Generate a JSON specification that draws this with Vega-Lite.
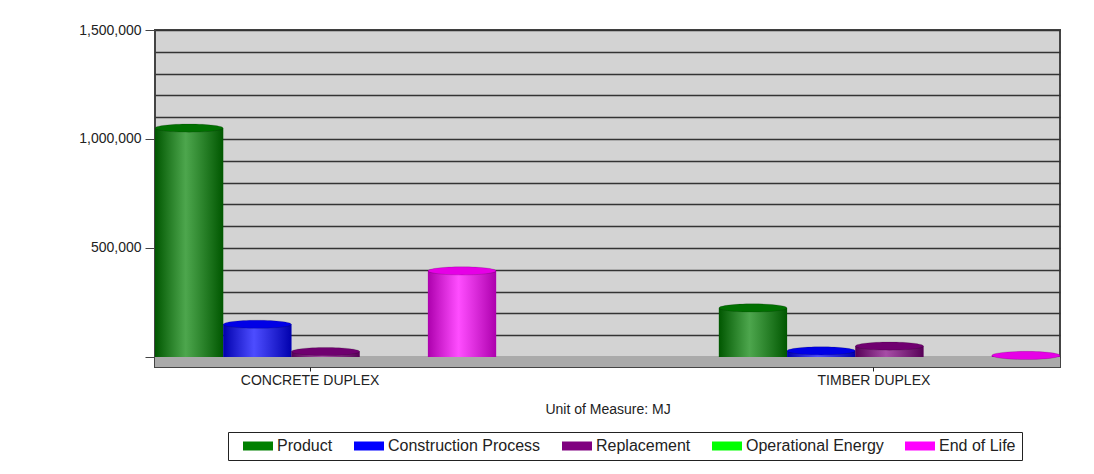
{
  "$schema": "https://vega.github.io/schema/vega-lite/v6.json",
  "width": 905,
  "height": 337,
  "autosize": {"type": "none"},
  "padding": {"left": 155, "top": 30, "right": 34, "bottom": 107},
  "background": "white",
  "data": {
    "values": [
      {"building": "CONCRETE DUPLEX", "stage": "Product", "energy": 1050000},
      {"building": "CONCRETE DUPLEX", "stage": "Construction Process", "energy": 150000},
      {"building": "CONCRETE DUPLEX", "stage": "Replacement", "energy": 25000},
      {"building": "CONCRETE DUPLEX", "stage": "Operational Energy", "energy": 0},
      {"building": "CONCRETE DUPLEX", "stage": "End of Life", "energy": 395000},
      {"building": "TIMBER DUPLEX", "stage": "Product", "energy": 225000},
      {"building": "TIMBER DUPLEX", "stage": "Construction Process", "energy": 28000},
      {"building": "TIMBER DUPLEX", "stage": "Replacement", "energy": 50000},
      {"building": "TIMBER DUPLEX", "stage": "Operational Energy", "energy": 0},
      {"building": "TIMBER DUPLEX", "stage": "End of Life", "energy": 7000}
    ]
  },
  "encoding": {
    "x": {
      "field": "building",
      "type": "nominal",
      "scale": {"paddingInner": 0.395, "paddingOuter": 0},
      "axis": {
        "title": "Unit of Measure: MJ",
        "labelAngle": 0,
        "tickOffset": -16,
        "domain": false,
        "tickSize": 4,
        "tickColor": "#222",
        "labelPadding": 2,
        "titlePadding": 15
      }
    },
    "xOffset": {
      "field": "stage",
      "type": "nominal",
      "sort": ["Product", "Construction Process", "Replacement", "Operational Energy", "End of Life"],
      "scale": {"paddingInner": 0, "paddingOuter": 0}
    },
    "y": {
      "field": "energy",
      "type": "quantitative",
      "scale": {"domain": [-46000, 1500000], "nice": false, "zero": false},
      "axis": {
        "title": null,
        "values": [0, 100000, 200000, 300000, 400000, 500000, 600000, 700000, 800000, 900000, 1000000, 1100000, 1200000, 1300000, 1400000, 1500000],
        "format": ",d",
        "labelExpr": "datum.value % 500000 === 0 && datum.value > 0 ? datum.label : ''",
        "tickSize": 10,
        "tickColor": "#444",
        "tickOpacity": {"condition": {"test": "datum.value % 500000 === 0", "value": 1}, "value": 0},
        "labelPadding": 4,
        "domain": false,
        "grid": true,
        "gridColor": "#333",
        "gridWidth": 1.3
      }
    }
  },
  "layer": [
    {
      "mark": {"type": "rect", "color": "#aaaaaa"},
      "encoding": {
        "x": {"value": 0},
        "x2": {"value": 905},
        "xOffset": null,
        "y": {"datum": -46000},
        "y2": {"datum": 0}
      }
    },
    {
      "mark": {"type": "bar"},
      "encoding": {
        "color": {
          "field": "stage",
          "type": "nominal",
          "sort": ["Product", "Construction Process", "Replacement", "Operational Energy", "End of Life"],
          "scale": {
            "domain": ["Product", "Construction Process", "Replacement", "Operational Energy", "End of Life"],
            "range": ["#008000", "#0000ff", "#800080", "#00ff00", "#ff00ff"]
          },
          "legend": {
            "title": null,
            "orient": "none",
            "legendX": 73,
            "legendY": 402,
            "direction": "horizontal"
          }
        }
      }
    },
    {
      "mark": {
        "type": "bar",
        "fill": {
          "gradient": "linear",
          "x1": 0, "x2": 1, "y1": 0, "y2": 0,
          "stops": [
            {"offset": 0, "color": "rgba(0,0,0,0.32)"},
            {"offset": 0.45, "color": "rgba(255,255,255,0.3)"},
            {"offset": 1, "color": "rgba(0,0,0,0.32)"}
          ]
        }
      }
    },
    {
      "transform": [{"filter": "datum.energy > 0"}],
      "mark": {
        "type": "point",
        "filled": true,
        "opacity": 1,
        "shape": "M-1,0A1,0.12,0,1,0,1,0A1,0.12,0,1,0,-1,0Z",
        "size": 4624,
        "stroke": "rgba(0,0,0,0.25)",
        "strokeWidth": 0.6
      },
      "encoding": {
        "fill": {
          "field": "stage",
          "type": "nominal",
          "scale": {
            "domain": ["Product", "Construction Process", "Replacement", "Operational Energy", "End of Life"],
            "range": ["#007000", "#0000e6", "#700070", "#00e600", "#e600e6"]
          },
          "legend": null
        }
      }
    }
  ],
  "config": {
    "font": "Liberation Sans",
    "view": {"fill": "#d3d3d3", "stroke": "#444", "strokeWidth": 2},
    "axis": {
      "labelFont": "Liberation Sans",
      "labelFontSize": 14,
      "labelColor": "#222",
      "titleFont": "Liberation Sans",
      "titleFontSize": 14,
      "titleFontWeight": "normal",
      "titleColor": "#222"
    },
    "legend": {
      "labelFont": "Liberation Sans",
      "labelFontSize": 16,
      "labelColor": "#222",
      "strokeColor": "#222",
      "fillColor": "white",
      "padding": 6,
      "symbolType": "M-3,-0.9L3,-0.9L3,0.9L-3,0.9Z",
      "symbolSize": 100,
      "symbolStrokeWidth": 0,
      "symbolOffset": 16,
      "labelOffset": 11,
      "columnPadding": 12
    }
  }
}
